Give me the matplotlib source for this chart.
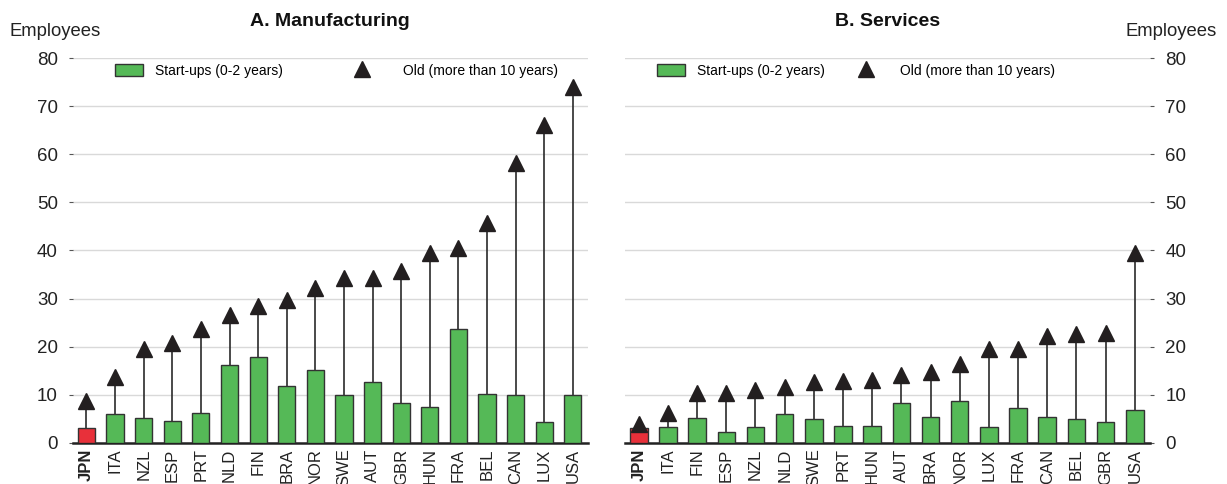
import matplotlib
matplotlib.use("Agg")
import matplotlib.pyplot as plt
from matplotlib.patches import Patch
from matplotlib.lines import Line2D

plt.rcParams['font.family'] = ['Liberation Sans', 'DejaVu Sans']

# Panel A: Manufacturing
mfg_countries = ["JPN", "ITA", "NZL", "ESP", "PRT", "NLD", "FIN", "BRA", "NOR",
                 "SWE", "AUT", "GBR", "HUN", "FRA", "BEL", "CAN", "LUX", "USA"]
mfg_startups = [3.0, 5.9, 5.2, 4.6, 6.2, 16.1, 17.9, 11.9, 15.2,
                10.0, 12.6, 8.2, 7.5, 23.7, 10.1, 9.9, 4.3, 9.9]
mfg_old = [8.8, 13.7, 19.6, 20.8, 23.7, 26.5, 28.5, 29.7, 32.2,
           34.3, 34.3, 35.7, 39.5, 40.6, 45.8, 58.1, 66.1, 73.9]

# Panel B: Services
srv_countries = ["JPN", "ITA", "FIN", "ESP", "NZL", "NLD", "SWE", "PRT", "HUN",
                 "AUT", "BRA", "NOR", "LUX", "FRA", "CAN", "BEL", "GBR", "USA"]
srv_startups = [3.0, 3.2, 5.2, 2.3, 3.2, 6.1, 4.9, 3.6, 3.6,
                8.2, 5.3, 8.6, 3.2, 7.2, 5.3, 4.9, 4.3, 6.8]
srv_old = [4.0, 6.3, 10.3, 10.3, 10.9, 11.6, 12.7, 12.8, 13.1,
           14.2, 14.7, 16.3, 19.6, 19.6, 22.3, 22.7, 22.8, 39.4]

yticks = [0, 10, 20, 30, 40, 50, 60, 70, 80]
legend_labels = ["Start-ups (0-2 years)", "Old (more than 10 years)"]

GREEN = "#55b957"
RED = "#e8303a"
EDGE = "#333333"
TRI = "#231f20"
GRID = "#d9d9d9"

fig = plt.figure(figsize=(12.27, 4.84), dpi=100)
axA = fig.add_axes([0.0595, 0.085, 0.4195, 0.795])
axB = fig.add_axes([0.5094, 0.085, 0.4278, 0.795])


def draw(ax, countries, startups, old, title, side, leg1_x, leg2_x, tri_pad):
    x = list(range(len(countries)))
    colors = [RED if c == "JPN" else GREEN for c in countries]
    for xi, s, o in zip(x, startups, old):
        ax.plot([xi, xi], [s, o], color="#2a2a2a", lw=1.2, zorder=2)
    ax.bar(x, startups, width=0.6, color=colors, edgecolor=EDGE, linewidth=1.0, zorder=3)
    ax.plot(x, old, linestyle="none", marker="^", markersize=11, color=TRI,
            markeredgecolor=TRI, zorder=4)
    ax.set_ylim(0, 80)
    ax.set_xlim(-0.47, len(countries) - 0.48)
    ax.set_yticks(yticks)
    ax.yaxis.grid(True, color=GRID, lw=1.0)
    ax.set_axisbelow(True)
    for sp in ["top", "left", "right"]:
        ax.spines[sp].set_visible(False)
    ax.spines["bottom"].set_linewidth(1.8)
    ax.spines["bottom"].set_color("#222222")
    ax.set_xticks(x)
    ax.set_xticklabels(countries, rotation=90, fontsize=12, color="#222222")
    for lbl in ax.get_xticklabels():
        if lbl.get_text() == "JPN":
            lbl.set_fontweight("bold")
    ax.tick_params(axis="x", length=0, pad=4)
    if side == "right":
        ax.yaxis.tick_right()
    ax.tick_params(axis="y", length=3, width=0.8, color="#555555", pad=8,
                   labelsize=13.5, labelcolor="#222222")
    ax.set_title(title, fontsize=14, fontweight="bold", pad=23, color="#111111")

    patch = Patch(facecolor=GREEN, edgecolor=EDGE, linewidth=1.0)
    tri = Line2D([], [], linestyle="none", marker="^", markersize=11, color=TRI)
    leg1 = ax.legend([patch], [legend_labels[0]], loc="upper left",
                     bbox_to_anchor=(leg1_x, 0.985), frameon=False, fontsize=10,
                     handlelength=2.0, handleheight=1.0, handletextpad=0.85,
                     borderpad=0, borderaxespad=0)
    ax.add_artist(leg1)
    ax.legend([tri], [legend_labels[1]], loc="upper left",
              bbox_to_anchor=(leg2_x, 0.985), frameon=False, fontsize=10,
              handlelength=2.0, handleheight=1.0, handletextpad=tri_pad,
              borderpad=0, borderaxespad=0)


draw(axA, mfg_countries, mfg_startups, mfg_old, "A. Manufacturing", "left",
     0.0816, 0.534, 1.95)
draw(axB, srv_countries, srv_startups, srv_old, "B. Services", "right",
     0.061, 0.432, 1.5)

fig.text(0.008, 0.934, "Employees", fontsize=13.3, ha="left", va="center", color="#222222")
fig.text(0.992, 0.934, "Employees", fontsize=13.3, ha="right", va="center", color="#222222")

fig.savefig("out.png", dpi=100)
